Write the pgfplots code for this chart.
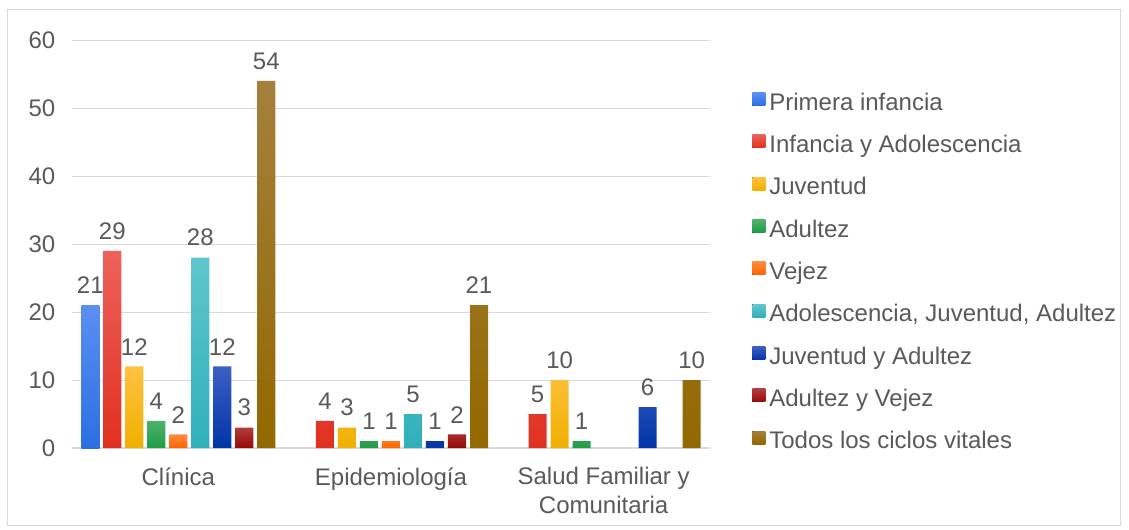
\documentclass[border=0pt]{standalone}
\usepackage{fontspec}
\setmainfont{Liberation Sans}
\usepackage{pgfplots}
\pgfplotsset{compat=1.18}

\definecolor{txt}{HTML}{595959}
\definecolor{gridc}{HTML}{D9D9D9}
\definecolor{framec}{HTML}{D9D9D9}
\definecolor{c1t}{HTML}{5B8FF2}\definecolor{c1b}{HTML}{2C6FE2}
\definecolor{c2t}{HTML}{EE615C}\definecolor{c2b}{HTML}{E0301F}
\definecolor{c3t}{HTML}{FFC240}\definecolor{c3b}{HTML}{F0B000}
\definecolor{c4t}{HTML}{4EB16C}\definecolor{c4b}{HTML}{1E9D45}
\definecolor{c5t}{HTML}{FF8B3E}\definecolor{c5b}{HTML}{FF6400}
\definecolor{c6t}{HTML}{60C6CD}\definecolor{c6b}{HTML}{30B0BA}
\definecolor{c7t}{HTML}{3C60C2}\definecolor{c7b}{HTML}{0034A8}
\definecolor{c8t}{HTML}{B03C3C}\definecolor{c8b}{HTML}{970808}
\definecolor{c9t}{HTML}{A4803C}\definecolor{c9b}{HTML}{936800}

\pgfplotsset{ser/.style 2 args={draw=none, top color=#1, bottom color=#2}}

\begin{document}
\begin{tikzpicture}[x=0.75pt,y=0.75pt]
\useasboundingbox (-72,-81) rectangle (1057,448);
\draw[framec, line width=0.75pt] (-64,-77) rectangle (1048,438);
\begin{axis}[
  at={(0,0)}, anchor=south west,
  scale only axis, width=478.5pt, height=306pt,
  ybar=3pt, bar width=13.5pt,
  xmin=-0.5, xmax=2.5, ymin=0, ymax=60,
  xtick={0,1,2},
  xticklabels={Clínica, Epidemiología, {Salud Familiar y\\Comunitaria}},
  ytick={0,10,...,60},
  ymajorgrids, grid style={gridc, line width=0.75pt},
  axis x line*=bottom, axis y line*=left,
  x axis line style={gridc, line width=1pt},
  y axis line style={draw=none},
  major tick length=0pt,
  tick label style={font=\fontsize{18}{21.75}\selectfont, text=txt},
  xticklabel style={align=center, yshift=-11pt},
  yticklabel style={xshift=-9pt},
  /pgf/number format/assume math mode=true,
  clip=false,
  nodes near coords,
  every node near coord/.append style={font=\fontsize{18}{21}\selectfont, text=txt, yshift=5pt},
  legend cell align=left,
  legend image code/.code={\fill[#1] (0pt,-1pt) rectangle (9.75pt,8.75pt);},
  legend style={at={(1.066,0.428)}, anchor=west, draw=none, fill=none,
    font=\fontsize{18}{21}\selectfont, text=txt, inner sep=0pt,
    row sep=14.5pt, column sep=3pt,
    nodes={inner sep=0pt, text height=13pt, text depth=4pt}},
]
\addplot[ser={c1t}{c1b}] coordinates {(0,21)};
\addplot[ser={c2t}{c2b}] coordinates {(0,29) (1,4) (2,5)};
\addplot[ser={c3t}{c3b}] coordinates {(0,12) (1,3) (2,10)};
\addplot[ser={c4t}{c4b}] coordinates {(0,4) (1,1) (2,1)};
\addplot[ser={c5t}{c5b}] coordinates {(0,2) (1,1)};
\addplot[ser={c6t}{c6b}] coordinates {(0,28) (1,5)};
\addplot[ser={c7t}{c7b}] coordinates {(0,12) (1,1) (2,6)};
\addplot[ser={c8t}{c8b}] coordinates {(0,3) (1,2)};
\addplot[ser={c9t}{c9b}] coordinates {(0,54) (1,21) (2,10)};
\legend{Primera infancia, Infancia y Adolescencia, Juventud, Adultez, Vejez,
  {Adolescencia, Juventud, Adultez}, Juventud y Adultez, Adultez y Vejez,
  Todos los ciclos vitales}
\end{axis}
\end{tikzpicture}
\end{document}
